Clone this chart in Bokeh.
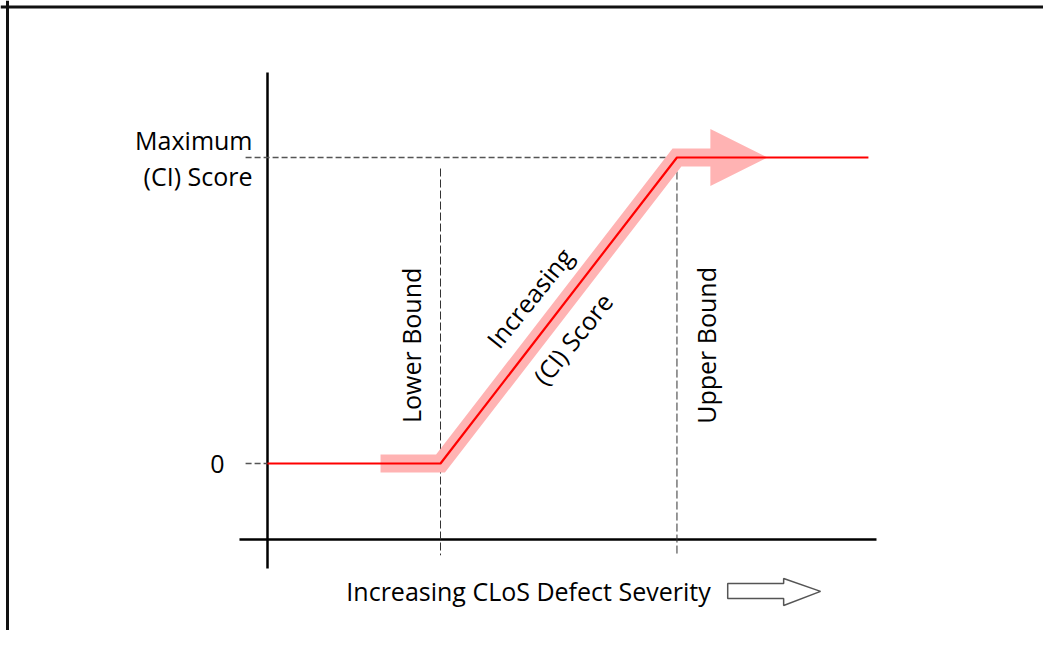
from bokeh.plotting import figure
from bokeh.models import Range1d, Span
from bokeh.core.properties import value
from bokeh.embed import file_html
from bokeh.resources import INLINE
import math

# ---- data (conceptual diagram values) ----
lower_bound = 3.0
upper_bound = 7.1
max_score = 1.0
curve_x = [0.0, lower_bound, upper_bound, 10.42]
curve_y = [0.0, 0.0, max_score, max_score]
band_x = [1.96, lower_bound, upper_bound, 7.70]
band_y = [0.0, 0.0, max_score, max_score]
head_x = [7.68, 8.67, 7.68]
head_y = [max_score + 0.093, max_score, max_score - 0.093]
ytick_labels = ["0", "Maximum", "(CI) Score"]
xlabel = "Increasing CLoS Defect Severity"

# outline arrow after the x label
oarrow_x = [7.98, 8.95, 8.95, 9.59, 8.95, 8.95, 7.98]
oarrow_y = [-0.392, -0.392, -0.376, -0.418, -0.464, -0.441, -0.441]

W, H = 1043, 630
s = 57.67  # px per x unit
ty = 306.0  # px per y unit
OX, OY = 267, 463  # origin position within the figure
x0 = (0 - OX) / s
x1 = (W - OX) / s
y1 = (OY - 0) / ty
y0 = (OY - H) / ty

p = figure(width=W, height=H, output_backend="svg", toolbar_location=None,
           x_axis_type=None, y_axis_type=None, min_border=0,
           x_range=Range1d(x0, x1), y_range=Range1d(y0, y1))
p.outline_line_color = None
p.grid.visible = False
p.background_fill_color = "white"
p.border_fill_color = "white"

# frame lines (left and top)
p.add_layout(Span(location=(7 - OX) / s, dimension="height", line_color="#111111", line_width=3))
p.add_layout(Span(location=(OY - 6.5) / ty, dimension="width", line_color="#111111", line_width=3))

# axes
p.line([0, 0], [1.278, -0.343], line_color="black", line_width=2.5)
p.line([-0.486, 10.56], [-0.248, -0.248], line_color="black", line_width=2.5)

# dashed guide lines
p.line([-0.38, upper_bound], [max_score, max_score], line_color="#555555", line_width=1.3, line_dash="6 3")
p.line([-0.38, 0], [0, 0], line_color="#555555", line_width=1.3, line_dash="6 3")
p.line([lower_bound, lower_bound], [0.964, -0.30], line_color="#333333", line_width=1, line_dash="8 3")
p.line([upper_bound, upper_bound], [0.99, -0.30], line_color="#333333", line_width=1, line_dash="8 3")

# pink band + arrowhead
p.line(band_x, band_y, line_color="#FFB3B3", line_width=18, line_join="miter", line_cap="butt")
p.patch(head_x, head_y, fill_color="#FFB3B3", line_color=None)

# red curve
p.line(curve_x, curve_y, line_color="#FF0000", line_width=2.2)

font = value("Open Sans")
fs = "25px"
# y labels
p.text(x=[-0.867], y=[0], text=[ytick_labels[0]], text_font=font, text_font_size=fs,
       text_align="center", text_baseline="middle", text_color="black")
p.text(x=[-0.26, -0.26], y=[1.056, 0.938], text=ytick_labels[1:], text_font=font, text_font_size=fs,
       text_align="right", text_baseline="middle", text_color="black")

# bound labels
p.text(x=[2.48, 7.61], y=[0.386, 0.386], text=["Lower Bound", "Upper Bound"], angle=math.pi / 2,
       text_font=font, text_font_size=fs, text_align="center", text_baseline="middle", text_color="black")

# slope labels
ang = math.radians(51)
p.text(x=[4.54, 5.29], y=[0.542, 0.408], text=["Increasing", "(CI) Score"], angle=ang,
       text_font=font, text_font_size=fs, text_align="center", text_baseline="middle", text_color="black")

# x label
p.text(x=[4.526], y=[-0.418], text=[xlabel], text_font=font, text_font_size=fs,
       text_align="center", text_baseline="middle", text_color="black")

p.patch(oarrow_x, oarrow_y, fill_color="white", line_color="#555555", line_width=1.5)

open("out.html", "w").write(file_html(p, INLINE))
